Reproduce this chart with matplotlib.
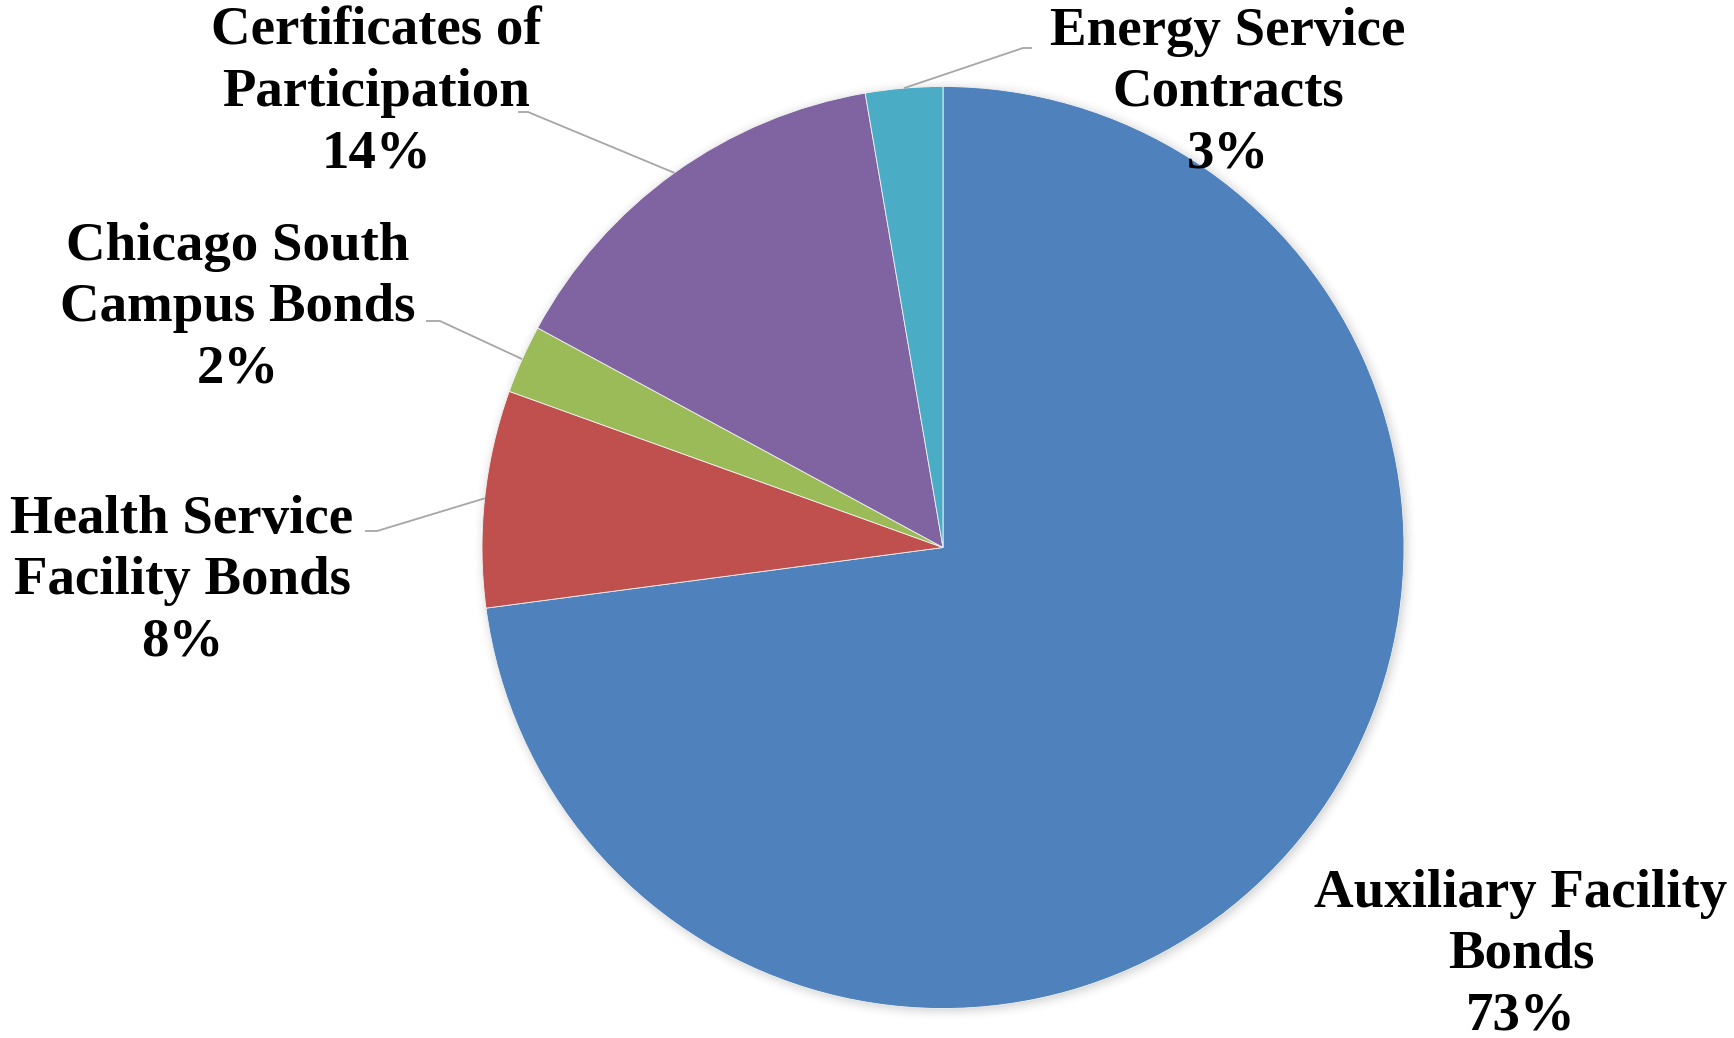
import matplotlib.pyplot as plt
import numpy as np

categories = ["Auxiliary Facility\nBonds", "Health Service\nFacility Bonds",
              "Chicago South\nCampus Bonds", "Certificates of\nParticipation",
              "Energy Service\nContracts"]
shares = [72.9, 7.6, 2.4, 14.4, 2.7]
colors = ["#4F81BD", "#C0504D", "#9BBB59", "#8064A2", "#4BACC6"]

W, H = 1734, 1038
cx, cy, r = 943, 490.5, 461

# where each label block sits and where its leader line leaves the text
label_pos = [(1521, 83), (182, 457), (238, 730), (376, 945), (1228, 945)]
leader_start = [None, (365, 507), (426, 717), (518, 926), (1032, 990)]
leader_knee = [None, (377, 507), (440, 717), (528, 926), (1023, 990)]

fig = plt.figure(figsize=(W / 100, H / 100), dpi=100)
ax = fig.add_axes([0, 0, 1, 1])

# soft drop shadow behind the pie
yy, xx = np.mgrid[0:H, 0:W] + 0.5
d = np.hypot(xx - (cx + 2), yy - (cy - 2))
spread = 12.0
alpha = np.clip((r + spread - d) / (2 * spread), 0, 1) ** 2 * 0.6
shadow = np.zeros((H, W, 4))
shadow[..., :3] = 0.3
shadow[..., 3] = alpha
ax.imshow(shadow, extent=(0, W, 0, H), origin="lower", zorder=0, interpolation="bilinear")

wedges, _ = ax.pie(shares, colors=colors, startangle=90, counterclock=False,
                   center=(cx, cy), radius=r, frame=True,
                   wedgeprops=dict(linewidth=0.6, edgecolor="#f4f4f4"))
ax.set_xlim(0, W)
ax.set_ylim(0, H)
ax.set_aspect("equal")
ax.axis("off")

for w, name, v, pos, start, knee in zip(wedges, categories, shares, label_pos,
                                        leader_start, leader_knee):
    ax.text(pos[0], pos[1], f"{name}\n{round(v)}%", ha="center", va="center",
            multialignment="center", fontsize=39.5, fontweight="bold",
            family="Liberation Serif", linespacing=1.3, zorder=5)
    if start is not None:
        mid = np.deg2rad((w.theta1 + w.theta2) / 2)
        ex, ey = cx + r * np.cos(mid), cy + r * np.sin(mid)
        ax.plot([start[0], knee[0], ex], [start[1], knee[1], ey],
                color="#a6a6a6", lw=1.3, zorder=4, solid_capstyle="butt")

fig.savefig("out.png", dpi=100)
